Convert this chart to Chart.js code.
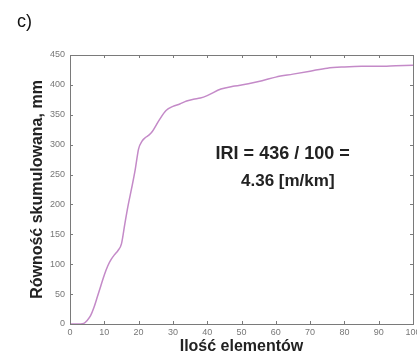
<!DOCTYPE html>
<html>
<head>
<meta charset="utf-8">
<script src="https://cdn.jsdelivr.net/npm/chart.js@4"></script>
<style>
    html, body { margin: 0; padding: 0; background: #fff; }
    canvas { display: block; }
</style>
</head>
<body>
<canvas id="iriChart" width="417" height="356"></canvas>
<script>
const elementCount = [0, 2, 4, 5, 6, 7, 8, 9, 10, 11, 12, 13, 14, 15, 16, 17, 18, 19, 20, 21, 22, 23, 24, 26, 28, 30, 32, 34, 36, 38, 40, 44, 48, 52, 56, 60, 65, 70, 75, 80, 85, 90, 95, 100];
const cumulativeEvenness = [0, 0, 1, 6, 14, 28, 46, 64, 82, 97, 108, 116, 123, 134, 168, 200, 228, 258, 293, 306, 312, 316, 322, 341, 357, 364, 368, 373, 376, 378, 382, 393, 398, 402, 407, 413, 418, 423, 428, 430, 431, 431, 432, 433];
const xTickValues = [0, 10, 20, 30, 40, 50, 60, 70, 80, 90, 100];
const yTickValues = [0, 50, 100, 150, 200, 250, 300, 350, 400, 450];
const noteLines = ["IRI = 436 / 100 =", "4.36 [m/km]"];

const axisColor = "#7a7a7a";
const fontFamily = "'Liberation Sans', Arial, sans-serif";

// MATLAB-style frame with inward ticks on all sides, plus the note and panel label
const framePlugin = {
    id: "frame",
    afterDraw(chart) {
        const { ctx, chartArea: a, scales } = chart;
        const len = 3;
        ctx.save();
        ctx.strokeStyle = axisColor;
        ctx.lineWidth = 1;
        ctx.strokeRect(a.left + 0.5, a.top + 0.5, a.right - a.left, a.bottom - a.top);
        ctx.beginPath();
        xTickValues.forEach((v) => {
            const px = Math.round(scales.x.getPixelForValue(v)) + 0.5;
            ctx.moveTo(px, a.bottom);
            ctx.lineTo(px, a.bottom - len);
            ctx.moveTo(px, a.top);
            ctx.lineTo(px, a.top + len);
        });
        yTickValues.forEach((v) => {
            const py = Math.round(scales.y.getPixelForValue(v)) + 0.5;
            ctx.moveTo(a.left, py);
            ctx.lineTo(a.left + len, py);
            ctx.moveTo(a.right, py);
            ctx.lineTo(a.right - len, py);
        });
        ctx.stroke();

        // note text
        ctx.fillStyle = "#222";
        ctx.textAlign = "center";
        ctx.textBaseline = "middle";
        ctx.font = `bold 18px ${fontFamily}`;
        ctx.fillText(noteLines[0], scales.x.getPixelForValue(62), scales.y.getPixelForValue(284));
        ctx.font = `bold 17px ${fontFamily}`;
        ctx.fillText(noteLines[1], scales.x.getPixelForValue(63.5), scales.y.getPixelForValue(238));

        // panel label
        ctx.font = `18px ${fontFamily}`;
        ctx.textAlign = "left";
        ctx.fillStyle = "#111";
        ctx.fillText("c)", 17, 22);
        ctx.restore();
    },
};

const chart = new Chart(document.getElementById("iriChart").getContext("2d"), {
    type: "line",
    data: {
        datasets: [
            {
                data: elementCount.map((x, i) => ({ x, y: cumulativeEvenness[i] })),
                borderColor: "#c48ac8",
                borderWidth: 1.5,
                pointRadius: 0,
                fill: false,
                cubicInterpolationMode: "monotone",
            },
        ],
    },
    options: {
        responsive: false,
        animation: false,
        layout: { padding: { top: 55, right: 4, left: 0, bottom: 0 } },
        plugins: {
            legend: { display: false },
            tooltip: { enabled: false },
        },
        scales: {
            x: {
                type: "linear",
                min: 0,
                max: 100,
                afterBuildTicks: (s) => { s.ticks = xTickValues.map((value) => ({ value })); },
                afterFit: (s) => {
                    s.height = 32;
                    s.paddingLeft = 0;
                    s.paddingRight = 0;
                },
                grid: { display: false, drawTicks: false },
                border: { display: false },
                ticks: {
                    color: "#777",
                    font: { size: 9, family: fontFamily },
                    padding: 3,
                    maxRotation: 0,
                },
                title: {
                    display: true,
                    text: "Ilość elementów",
                    color: "#222",
                    font: { size: 16, weight: "bold", family: fontFamily },
                    padding: { top: 0, bottom: 0 },
                },
            },
            y: {
                type: "linear",
                min: 0,
                max: 450,
                afterBuildTicks: (s) => { s.ticks = yTickValues.map((value) => ({ value })); },
                afterFit: (s) => { s.width = 70; },
                grid: { display: false, drawTicks: false },
                border: { display: false },
                ticks: {
                    color: "#777",
                    font: { size: 9, family: fontFamily },
                    padding: 5,
                },
                title: {
                    display: true,
                    text: "Równość skumulowana, mm",
                    color: "#222",
                    font: { size: 16, weight: "bold", family: fontFamily },
                    padding: { top: 28, bottom: 0 },
                },
            },
        },
    },
    plugins: [framePlugin],
});
</script>
</body>
</html>
